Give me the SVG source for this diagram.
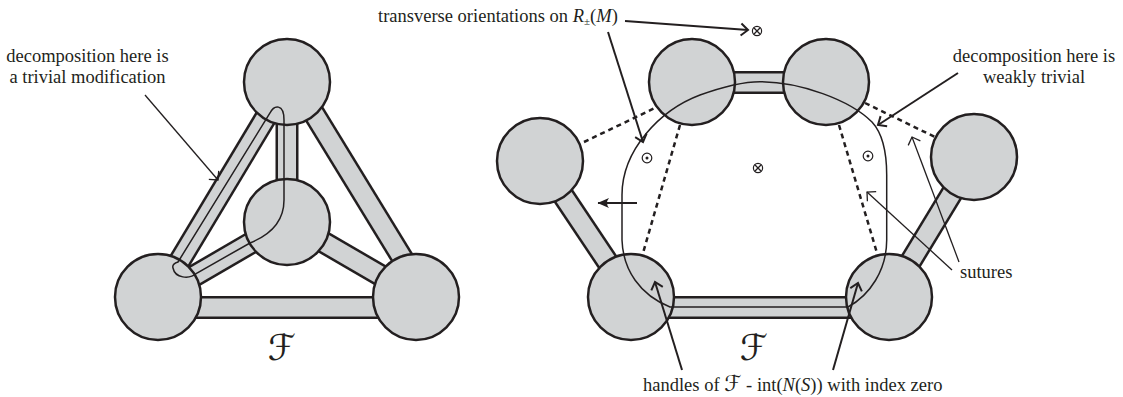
<svg xmlns="http://www.w3.org/2000/svg" width="1123" height="397" viewBox="0 0 1123 397">
<style>
.bo{stroke:#231f20;stroke-width:23;fill:none}
.bi{stroke:#d1d3d4;stroke-width:18;fill:none}
.nd{fill:#d1d3d4;stroke:#231f20;stroke-width:2.5}
.dash{stroke:#231f20;stroke-width:2.5;stroke-dasharray:5 4;fill:none}
.loop{stroke:#231f20;stroke-width:1.5;fill:none}
.thin{stroke:#231f20;stroke-width:1.3;fill:none}
.thick{stroke:#231f20;stroke-width:2;fill:none}
.sym{stroke:#231f20;stroke-width:1.2;fill:#fff}
.lb{font-family:'Liberation Serif','Times New Roman',serif;font-size:18.5px;fill:#231f20}
.scr{font-family:'DejaVu Serif','DejaVu Sans',serif;fill:#231f20}
</style>
<defs>
<marker id="hThin" markerUnits="userSpaceOnUse" viewBox="-10 -8 12 16" refX="0" refY="0" markerWidth="12" markerHeight="16" orient="auto">
<path d="M-6.5,-6.5 L0,0 L-6.5,6.5" fill="none" stroke="#231f20" stroke-width="1.3"/>
</marker>
<marker id="hThick" markerUnits="userSpaceOnUse" viewBox="-10 -8 12 16" refX="0" refY="0" markerWidth="12" markerHeight="16" orient="auto">
<path d="M-7,-6 L0,0 L-7,6" fill="none" stroke="#231f20" stroke-width="2"/>
</marker>
<marker id="hFill" markerUnits="userSpaceOnUse" viewBox="-12 -6 14 12" refX="0" refY="0" markerWidth="14" markerHeight="12" orient="auto">
<path d="M0.5,0 L-11,-5 Q-7,0 -11,5 Z" fill="#231f20"/>
</marker>
</defs>
<rect width="1123" height="397" fill="#fff"/>

<g id="connectors">
  <g id="band-top-bl"><line class="bo" x1="158" y1="297" x2="287" y2="82"/><line class="bi" x1="158" y1="297" x2="287" y2="82"/></g>
  <g id="band-top-mid"><line class="bo" x1="287" y1="82" x2="287" y2="222"/><line class="bi" x1="287" y1="82" x2="287" y2="222"/></g>
  <g id="band-top-br"><line class="bo" x1="294" y1="81" x2="417" y2="282"/><line class="bi" x1="294" y1="81" x2="417" y2="282"/></g>
  <g id="band-mid-bl"><line class="bo" x1="287" y1="222" x2="158" y2="297"/><line class="bi" x1="287" y1="222" x2="158" y2="297"/></g>
  <g id="band-mid-br"><line class="bo" x1="287" y1="221" x2="416" y2="296"/><line class="bi" x1="287" y1="221" x2="416" y2="296"/></g>
  <g id="band-bl-br"><line class="bo" x1="158" y1="307.5" x2="416" y2="307.5"/><line class="bi" x1="158" y1="307.5" x2="416" y2="307.5"/></g>
  <g id="band-fl-bl"><line class="bo" x1="540" y1="161" x2="631" y2="297"/><line class="bi" x1="540" y1="161" x2="631" y2="297"/></g>
  <g id="band-tl-tr"><line class="bo" x1="692" y1="82.5" x2="826" y2="82.5"/><line class="bi" x1="692" y1="82.5" x2="826" y2="82.5"/></g>
  <g id="band-bl-br2"><line class="bo" x1="631" y1="307.5" x2="889" y2="307.5"/><line class="bi" x1="631" y1="307.5" x2="889" y2="307.5"/></g>
  <g id="band-fr-br"><line class="bo" x1="974" y1="157" x2="889" y2="297"/><line class="bi" x1="974" y1="157" x2="889" y2="297"/></g>
  <line class="dash" x1="584" y1="142" x2="657" y2="107"/>
  <line class="dash" x1="680" y1="125" x2="643" y2="253"/>
  <line class="dash" x1="865" y1="103" x2="935" y2="137"/>
  <line class="dash" x1="839" y1="125" x2="877" y2="253"/>
</g>

<g id="node-l-top"><circle class="nd" cx="287" cy="82" r="43"/></g>
<g id="node-l-mid"><circle class="nd" cx="287" cy="222" r="43"/></g>
<g id="node-l-bl"><circle class="nd" cx="158" cy="297" r="43"/></g>
<g id="node-l-br"><circle class="nd" cx="416" cy="297" r="43"/></g>

<g id="node-r-fl"><circle class="nd" cx="540" cy="161" r="43"/></g>
<g id="node-r-tl"><circle class="nd" cx="692" cy="82" r="43"/></g>
<g id="node-r-tr"><circle class="nd" cx="826" cy="82" r="43"/></g>
<g id="node-r-fr"><circle class="nd" cx="974" cy="157" r="43"/></g>
<g id="node-r-bl"><circle class="nd" cx="631" cy="297" r="43"/></g>
<g id="node-r-br"><circle class="nd" cx="889" cy="297" r="43"/></g>

<g id="curves">
  <path class="loop" d="M178,262 L270,113 C274,105 284,103 284,120 L284,200 C284,222 270,235 250,243 L197,273 C189,280 175,278 173,268 C172,265 175,263 178,262 Z"/>
  <path class="loop" d="M622,240 L622,195 C622,150 660,110 700,95 C725,86 745,81.7 760,81.7 C800,81.7 850,100 872,122 C884,135 886.7,155 886.7,175 L886.7,240 C886.7,270 870,295 848,307 L670,307 C640,295 623,270 622,240 Z"/>
</g>

<g id="annotations">
  <line class="thin" x1="145" y1="95" x2="218" y2="180" marker-end="url(#hThin)"/>
  <line class="thick" x1="625" y1="21" x2="748" y2="30" marker-end="url(#hThick)"/>
  <line class="thick" x1="608" y1="32" x2="643" y2="142" marker-end="url(#hThick)"/>
  <line class="thick" x1="637" y1="203" x2="598" y2="203" marker-end="url(#hFill)"/>
  <line class="thick" x1="958" y1="73" x2="878" y2="125" marker-end="url(#hThick)"/>
  <line class="thin" x1="952" y1="270" x2="867" y2="192" marker-end="url(#hThin)"/>
  <line class="thin" x1="959" y1="262" x2="912" y2="137" marker-end="url(#hThin)"/>
  <line class="thick" x1="682" y1="370" x2="655" y2="282" marker-end="url(#hThick)"/>
  <line class="thick" x1="833" y1="370" x2="858" y2="283" marker-end="url(#hThick)"/>

  <g id="otimes-top"><circle class="sym" cx="757" cy="31" r="4.6"/><path class="thin" stroke-width="1.1" d="M753.8,27.8 L760.2,34.2 M760.2,27.8 L753.8,34.2"/></g>
  <g id="otimes-mid"><circle class="sym" cx="758" cy="168" r="4.6"/><path class="thin" stroke-width="1.1" d="M754.8,164.8 L761.2,171.2 M761.2,164.8 L754.8,171.2"/></g>
  <g id="odot-l"><circle class="sym" cx="647" cy="158" r="4.8"/><circle cx="647" cy="158" r="1.5" fill="#231f20"/></g>
  <g id="odot-r"><circle class="sym" cx="868" cy="156" r="4.8"/><circle cx="868" cy="156" r="1.5" fill="#231f20"/></g>
</g>

<g id="labels">
  <text class="lb" font-family="Liberation Serif, serif" x="87.5" y="62" text-anchor="middle">decomposition here is</text>
  <text class="lb" font-family="Liberation Serif, serif" x="87.5" y="83" text-anchor="middle">a trivial modification</text>
  <text class="lb" font-family="Liberation Serif, serif" x="378" y="22">transverse orientations on <tspan font-style="italic">R</tspan><tspan font-size="11" dy="3">±</tspan><tspan dy="-3">(</tspan><tspan font-style="italic">M</tspan>)</text>
  <text class="lb" font-family="Liberation Serif, serif" x="1034" y="62" text-anchor="middle">decomposition here is</text>
  <text class="lb" font-family="Liberation Serif, serif" x="1034" y="83" text-anchor="middle">weakly trivial</text>
  <text class="lb" font-family="Liberation Serif, serif" x="960" y="278">sutures</text>
  <text class="lb" font-family="Liberation Serif, serif" x="643" y="391">handles of <tspan class="scr" font-size="22">ℱ</tspan> - int(<tspan font-style="italic">N</tspan>(<tspan font-style="italic">S</tspan>)) with index zero</text>
  <text class="scr" x="282" y="360" font-size="36" text-anchor="middle">ℱ</text>
  <text class="scr" x="754" y="360" font-size="36" text-anchor="middle">ℱ</text>
</g>
</svg>
